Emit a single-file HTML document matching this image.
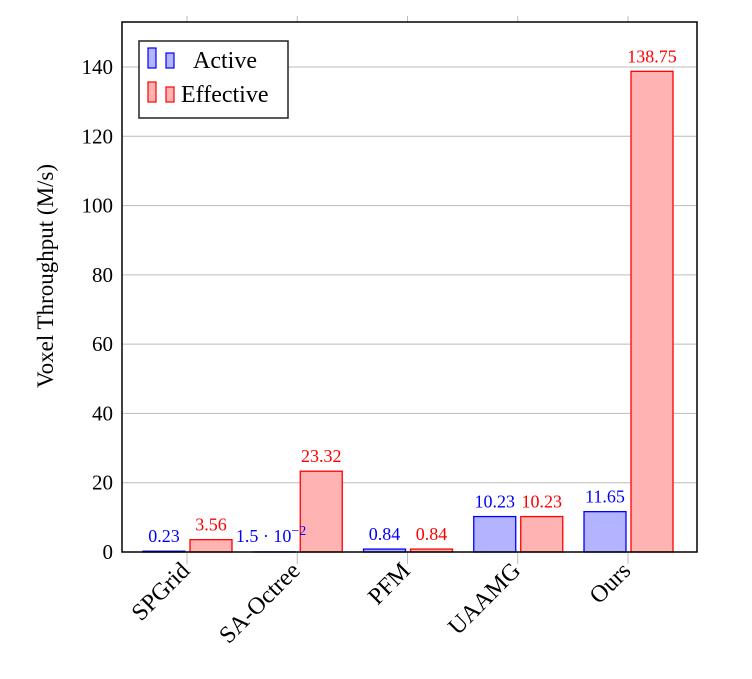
<!DOCTYPE html>
<html><head><meta charset="utf-8"><style>
body{margin:0;background:#fff}
svg text{font-family:"Liberation Serif",serif}
</style></head><body>
<svg id="c" width="752" height="674" xmlns="http://www.w3.org/2000/svg"></svg>
<script>
const categories=["SPGrid","SA-Octree","PFM","UAAMG","Ours"];
const activeValues=[0.23,0.015,0.84,10.23,11.65];
const effectiveValues=[3.56,23.32,0.84,10.23,138.75];
const activeLabels=["0.23","1.5 · 10","0.84","10.23","11.65"];
const effectiveLabels=["3.56","23.32","0.84","10.23","138.75"];
const yTicks=[0,20,40,60,80,100,120,140];
const svg=document.getElementById('c');
const NS="http://www.w3.org/2000/svg";
const L=122,R=697,T=22,B=552;
const y=v=>B-v*(552-67)/140;
const x=i=>187+i*110.25;
function el(t,a,txt){const e=document.createElementNS(NS,t);for(const k in a)e.setAttribute(k,a[k]);if(txt!=null)e.textContent=txt;svg.appendChild(e);return e;}
yTicks.forEach(v=>{
 if(v>0){const g=el('line',{x1:L,x2:R,y1:y(v),y2:y(v),stroke:'#bbb','stroke-width':1});
 
 }
 const t=el('text',{x:L-9,y:y(v)+7,'text-anchor':'end','font-size':21},String(v));
 
 
});
categories.forEach((c,i)=>{
 const cx=x(i);
 const tk=el('line',{x1:cx,x2:cx,y1:T,y2:T-6,stroke:'#bbb'});
 
 
 const tb=el('line',{x1:cx,x2:cx,y1:B,y2:B+12,stroke:'#bbb'});
 
 
 const ba=el('rect',{x:cx-44,y:y(activeValues[i]),width:42,height:B-y(activeValues[i]),fill:'#b3b3ff',stroke:'#0000ff','stroke-width':1.3});
 
 
 const br=el('rect',{x:cx+3,y:y(effectiveValues[i]),width:42,height:B-y(effectiveValues[i]),fill:'#ffb3b3',stroke:'#ff0000','stroke-width':1.3});
 
 
 const la=el('text',{x:cx-23,y:y(activeValues[i])-9,'text-anchor':'middle','font-size':18,fill:'#0000ff'},activeLabels[i]);
 if(i===1){la.setAttribute('y',y(activeValues[i])-10);la.setAttribute('text-anchor','end');
  const s=el('tspan',{dy:-7,'font-size':14});s.textContent='−2';la.appendChild(s);la.setAttribute('x',cx+9);}
 
 
 const lr=el('text',{x:cx+24,y:y(effectiveValues[i])-9,'text-anchor':'middle','font-size':18,fill:'#ff0000'},effectiveLabels[i]);
 
 
 const ax=cx+4,ay=B+20;
 const xl=el('text',{x:ax,y:ay,'text-anchor':'end','font-size':24,transform:`rotate(-45 ${ax} ${ay})`},c);
 
 
});
const fr=el('rect',{x:L,y:T,width:R-L,height:B-T,fill:'none',stroke:'#000','stroke-width':1.5});


const yt=el('text',{x:53,y:276,'text-anchor':'middle','font-size':23,transform:`rotate(-90 53 276)`},'Voxel Throughput (M/s)');


const lg=el('rect',{x:139,y:41,width:149,height:77,fill:'#fff',stroke:'#222','stroke-width':1.5});


[['Active','#b3b3ff','#0000ff',48,193],['Effective','#ffb3b3','#ff0000',82,181]].forEach(([n,f,s,yy,tx])=>{
 const a=el('rect',{x:148,y:yy,width:8,height:20,fill:f,stroke:s,'stroke-width':1.2});
 
 
 const b=el('rect',{x:166,y:yy+5,width:8,height:15,fill:f,stroke:s,'stroke-width':1.2});
 
 
 const t=el('text',{x:tx,y:yy+20,'font-size':24},n);
 
 
});
</script>
</body></html>
